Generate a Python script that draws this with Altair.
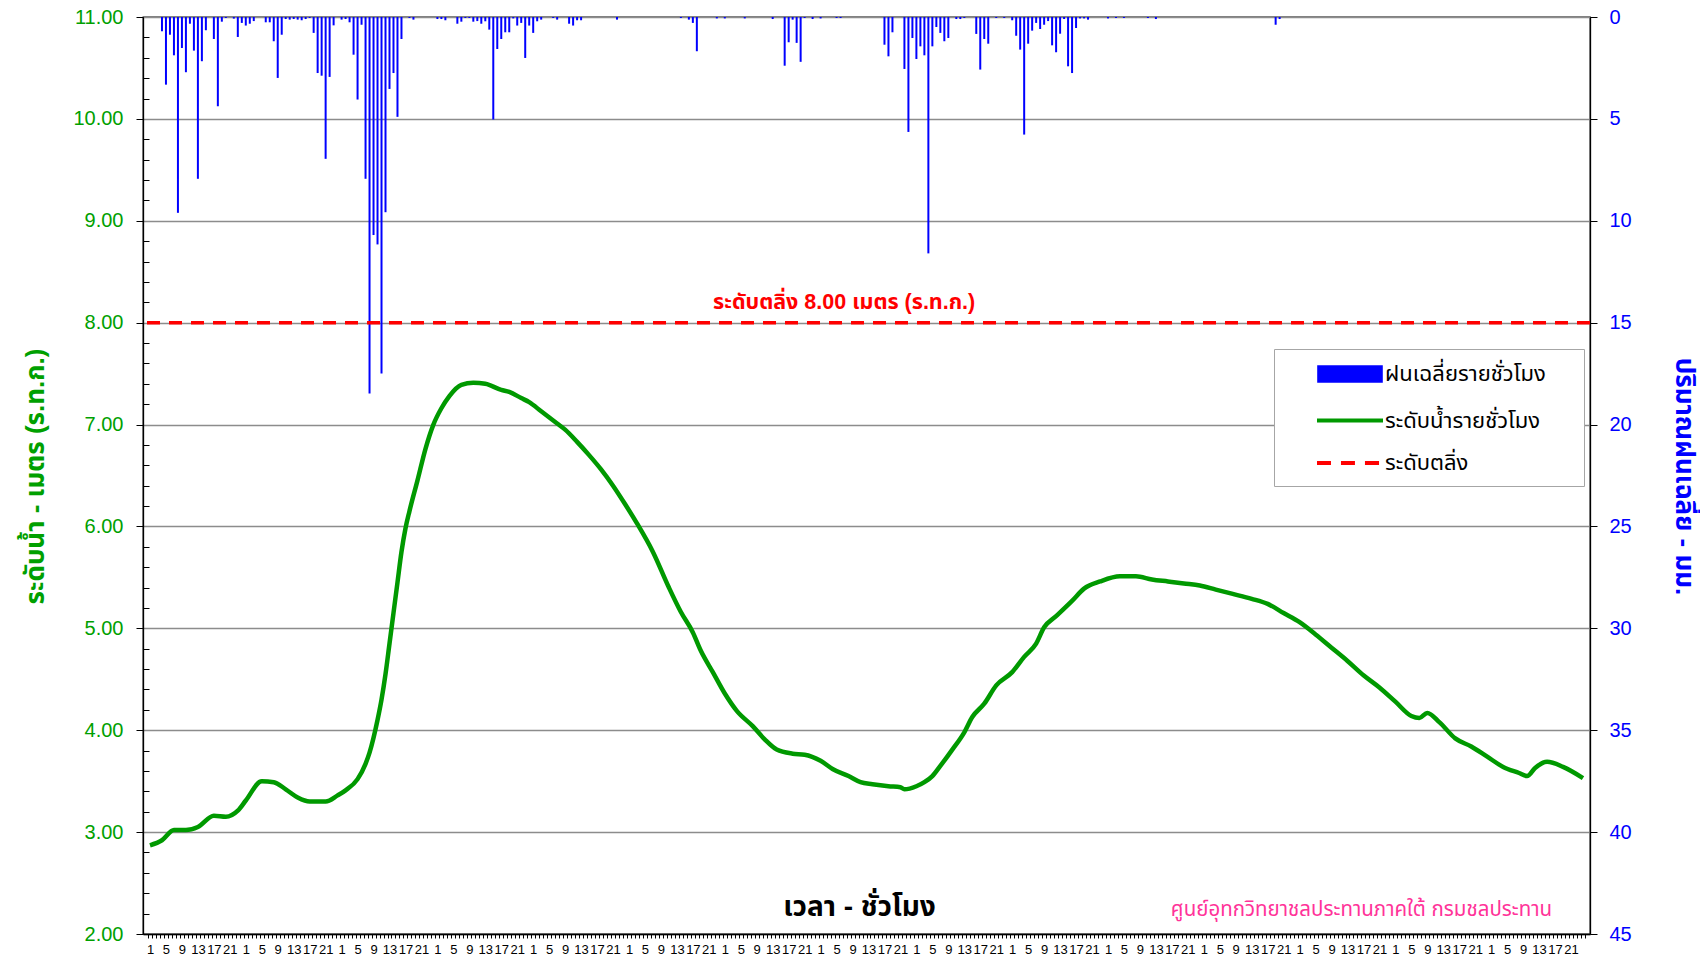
import altair as alt
import pandas as pd

FONT = "'Liberation Sans', 'Noto Sans Thai', 'Noto Sans', 'DejaVu Sans', sans-serif"

hours_total = 360  # 15 days of hourly data

# hourly water level (hour index, metres above MSL)
level_hour = [0, 3, 6, 9, 12, 16, 19, 22, 24, 28, 31, 34, 37, 40, 44, 47, 49, 52, 54, 55,
              57, 58, 59, 60, 61, 62, 63, 64, 65, 67, 69, 71, 73, 75, 78, 81, 84, 88, 90, 93, 95, 98, 102,
              104, 107, 110, 113, 116, 119, 122, 126, 130, 133, 136, 138, 141, 144, 147, 151, 154, 157, 161, 164,
              168, 171, 175, 178, 181, 185, 188, 189, 192, 194, 196, 198, 201, 204, 206, 209, 212, 216, 219, 222,
              224, 227, 231, 234, 238, 243, 247, 251, 255, 259, 263, 267, 271, 276, 280, 284, 288, 292, 296, 300,
              304, 308, 312, 316, 318, 320, 323, 327, 331, 335, 339, 343, 345, 347, 350, 354, 359]
level_value = [2.87, 2.92, 3.02, 3.02, 3.05, 3.16, 3.15, 3.21, 3.31, 3.50, 3.49, 3.42, 3.34, 3.30, 3.30, 3.36, 3.41, 3.52, 3.67, 3.78,
               4.10, 4.30, 4.55, 4.85, 5.15, 5.45, 5.75, 5.98, 6.15, 6.45, 6.76, 7.00, 7.16, 7.28, 7.39, 7.41, 7.40, 7.34, 7.32, 7.26, 7.22, 7.13, 7.01,
               6.95, 6.83, 6.70, 6.56, 6.40, 6.22, 6.03, 5.75, 5.40, 5.16, 4.96, 4.78, 4.57, 4.36, 4.19, 4.04, 3.91, 3.81, 3.77, 3.76,
               3.70, 3.62, 3.55, 3.49, 3.47, 3.45, 3.44, 3.42, 3.45, 3.49, 3.55, 3.65, 3.81, 3.98, 4.13, 4.26, 4.44, 4.57, 4.72, 4.85,
               5.01, 5.12, 5.27, 5.39, 5.46, 5.51, 5.51, 5.48, 5.46, 5.44, 5.42, 5.38, 5.34, 5.29, 5.24, 5.15, 5.06, 4.94, 4.81, 4.68,
               4.54, 4.42, 4.28, 4.14, 4.12, 4.17, 4.08, 3.92, 3.84, 3.74, 3.64, 3.58, 3.55, 3.63, 3.69, 3.64, 3.53]

# hourly average rainfall (hour index, mm) - hours not listed had no rain
rain_hour = [3, 4, 5, 6, 7, 8, 9, 10, 11, 12, 13, 14, 16, 17, 18, 19, 21, 22, 23, 24,
             25, 26, 29, 30, 31, 32, 33, 34, 35, 36, 37, 38, 39, 40, 41, 42, 43, 44, 45, 46,
             48, 49, 50, 51, 52, 53, 54, 55, 56, 57, 58, 59, 60, 61, 62, 63, 65, 66, 72, 73,
             74, 77, 78, 79, 80, 81, 82, 83, 84, 85, 86, 87, 88, 89, 90, 91, 92, 93, 94, 95,
             96, 97, 98, 101, 102, 105, 106, 107, 108, 117, 133, 135, 136, 137, 142, 144, 149, 156, 159, 160,
             161, 162, 163, 164, 166, 168, 172, 173, 184, 185, 186, 189, 190, 191, 192, 193, 194, 195, 196, 197,
             198, 199, 200, 202, 203, 204, 207, 208, 209, 210, 212, 214, 216, 217, 218, 219, 220, 221, 222, 223,
             224, 225, 226, 227, 228, 229, 230, 231, 232, 233, 234, 235, 240, 242, 244, 250, 252, 282, 283]
rain_value = [0.70, 3.32, 0.87, 1.88, 9.61, 1.52, 2.71, 0.33, 1.65, 7.94, 2.17, 0.65, 1.08, 4.38, 0.23, 0.05, 0.08, 0.98, 0.29, 0.42,
              0.33, 0.20, 0.26, 0.26, 1.19, 2.99, 0.87, 0.10, 0.13, 0.10, 0.13, 0.16, 0.10, 0.05, 0.78, 2.75, 2.88, 6.96, 2.94, 0.41,
              0.13, 0.10, 0.26, 1.85, 4.05, 0.38, 7.94, 18.48, 10.70, 11.16, 17.50, 9.58, 3.53, 2.75, 4.90, 1.08, 0.05, 0.13, 0.10, 0.10,
              0.16, 0.33, 0.23, 0.05, 0.05, 0.23, 0.20, 0.33, 0.21, 0.62, 5.03, 1.57, 1.08, 0.75, 0.75, 0.07, 0.42, 0.29, 2.01, 0.42,
              0.78, 0.21, 0.13, 0.05, 0.13, 0.33, 0.42, 0.16, 0.16, 0.13, 0.05, 0.13, 0.29, 1.68, 0.07, 0.07, 0.07, 0.10, 2.39, 1.24,
              0.13, 1.27, 2.20, 0.05, 0.10, 0.07, 0.05, 0.05, 1.36, 1.93, 0.75, 2.55, 5.64, 1.03, 2.06, 1.44, 1.88, 11.60, 1.44, 0.49,
              0.78, 1.19, 1.03, 0.10, 0.10, 0.05, 0.83, 2.58, 1.08, 1.31, 0.05, 0.05, 0.16, 0.92, 1.60, 5.77, 1.31, 0.67, 0.29, 0.59,
              0.38, 0.20, 1.39, 1.73, 0.82, 0.10, 2.42, 2.75, 0.54, 0.07, 0.07, 0.13, 0.07, 0.05, 0.05, 0.05, 0.10, 0.38, 0.10]

legend_names = ["ฝนเฉลี่ยรายชั่วโมง", "ระดับน้ำรายชั่วโมง", "ระดับตลิ่ง"]
legend_strokes = ["#0000FF", "#009900", "#FF0000"]
legend_fills = ["#0000FF", "transparent", "transparent"]
# legend symbol shapes: filled swatch, solid line, dashed line
legend_shapes = ["M-2.8,-0.62H2.8V0.62H-2.8Z", "M-3,0H3", "M-3,0H-1.73M-0.82,0H0.45M1.36,0H2.64"]
bank_level = [8.0]
bank_label = "ระดับตลิ่ง 8.00 เมตร (ร.ท.ก.)"
credit_text = "ศูนย์อุทกวิทยาชลประทานภาคใต้  กรมชลประทาน"
left_ticks = [2, 3, 4, 5, 6, 7, 8, 9, 10, 11]
left_minor = [round(2 + 0.2 * k, 1) for k in range(46) if k % 5 != 0]
right_ticks = [0, 5, 10, 15, 20, 25, 30, 35, 40, 45]
hour_ticks = list(range(0, hours_total + 1))

level_df = pd.DataFrame({"pos": [h + 0.5 for h in level_hour], "level": level_value})
rain_df = pd.DataFrame({"pos": [h + 0.5 for h in rain_hour], "rain": rain_value})
bank_df = pd.DataFrame({"level": bank_level})
legend_df = pd.DataFrame({"series": legend_names})

x_scale = alt.Scale(domain=[0, hours_total], nice=False, zero=False)
lvl_scale = alt.Scale(domain=[2, 11], nice=False, zero=False)
rain_scale = alt.Scale(domain=[0, 45], reverse=True, nice=False, zero=True)

x_axis = alt.Axis(
    values=hour_ticks, tickSize=4, tickColor="black", domainColor="black", domainWidth=1.3,
    labelExpr="(datum.value % 4 === 0 && datum.value < 360) ? '' + (datum.value % 24 + 1) : ''",
    labelOffset=2, labelFontSize=13, labelFont=FONT, labelColor="black", labelPadding=5,
    labelOverlap=False, labelBound=False, labelFlush=False, grid=False,
    title="เวลา - ชั่วโมง", titleFont=FONT, titleFontSize=28, titleFontWeight="bold",
    titleColor="black", titleX=716, titleY=-27, titleBaseline="middle", titleAnchor="middle",
)

left_axis = alt.Axis(
    orient="left", values=left_ticks, format=".2f", tickSize=7, tickColor="black",
    domainColor="black", domainWidth=1.3, labelPadding=13, labelColor="#00A000",
    labelFontSize=20, labelFont=FONT, grid=True, gridColor="#8C8C8C", gridWidth=1.5,
    title="ระดับน้ำ - เมตร (ร.ท.ก.)", titleFont=FONT, titleColor="#00A000", titleFontSize=26,
    titleFontWeight="bold", titleAngle=270, titleX=-108, titleY=459, titleBaseline="middle",
    titleAlign="center",
)

minor_axis = alt.Axis(
    orient="left", values=left_minor, offset=-6, tickSize=6, tickColor="black",
    domain=False, labels=False, grid=False, title=None,
)

right_axis = alt.Axis(
    orient="right", values=right_ticks, tickSize=7, tickColor="black", domainColor="black",
    domainWidth=1.3, labelPadding=12, labelColor="#0000FF", labelFontSize=20, labelFont=FONT,
    grid=False, title="ปริมาณฝนเฉลี่ย - มม.", titleFont=FONT, titleColor="#0000FF",
    titleFontSize=26, titleFontWeight="bold", titleAngle=90, titleX=93, titleY=459,
    titleBaseline="middle", titleAlign="center",
)

def make_legend():
    return alt.Legend(
        orient="none", legendX=1131, legendY=332, direction="vertical",
        title="\u200b", titleOrient="right", titlePadding=26, titleFontSize=10,
        padding=12, strokeColor="#A6A6A6", fillColor="white", cornerRadius=0,
        symbolSize=484, symbolStrokeWidth=4, symbolOpacity=1, symbolOffset=51,
        labelOffset=22, rowPadding=18.5, labelFontSize=22, labelFont=FONT,
        labelColor="black", labelLimit=400,
    )

bars = alt.Chart(rain_df).mark_bar(orient="vertical", size=2, color="#0000FF").encode(
    x=alt.X("pos:Q", scale=x_scale, axis=x_axis),
    y=alt.Y("rain:Q", scale=rain_scale, axis=right_axis),
)

line = alt.Chart(level_df).mark_line(
    color="#009900", strokeWidth=4.5, strokeJoin="round", interpolate="monotone"
).encode(
    x=alt.X("pos:Q", scale=x_scale, axis=x_axis),
    y=alt.Y("level:Q", scale=lvl_scale, axis=left_axis),
)

bank = alt.Chart(bank_df).mark_rule(color="#FF0000", strokeWidth=3.5, strokeDash=[13, 9]).encode(
    y=alt.Y("level:Q", scale=lvl_scale, axis=minor_axis),
)

bank_text = alt.Chart(bank_df).mark_text(
    text=bank_label, color="#FF0000", fontSize=21.5, fontWeight="bold", font=FONT, dy=-20,
    baseline="middle", align="center",
).encode(
    x=alt.XDatum(174.4, type="quantitative", scale=x_scale, axis=x_axis),
    y=alt.Y("level:Q", scale=lvl_scale, axis=None),
)

credit = alt.Chart(bank_df).mark_text(
    text=credit_text, color="#FF3399", fontSize=20.5, font=FONT, baseline="middle", align="center",
).encode(
    x=alt.XDatum(304, type="quantitative", scale=x_scale, axis=x_axis),
    y=alt.YDatum(2.24, type="quantitative", scale=lvl_scale, axis=None),
)

legend_layer = alt.Chart(legend_df).mark_point(opacity=0).encode(
    fill=alt.Fill("series:N", scale=alt.Scale(domain=legend_names, range=legend_fills), legend=make_legend()),
    stroke=alt.Stroke("series:N", scale=alt.Scale(domain=legend_names, range=legend_strokes), legend=make_legend()),
    shape=alt.Shape("series:N", scale=alt.Scale(domain=legend_names, range=legend_shapes), legend=make_legend()),
)

chart = alt.layer(bars, line, bank, bank_text, credit, legend_layer).resolve_scale(
    y="independent"
).properties(
    width=1447, height=917,
    autosize=alt.AutoSizeParams(type="none"),
    padding={"left": 135, "top": 9, "right": 110, "bottom": 27},
    background="white",
).configure_view(stroke="black", strokeWidth=1.3)

chart.save("out.html", embed_options={"renderer": "svg", "actions": False})
